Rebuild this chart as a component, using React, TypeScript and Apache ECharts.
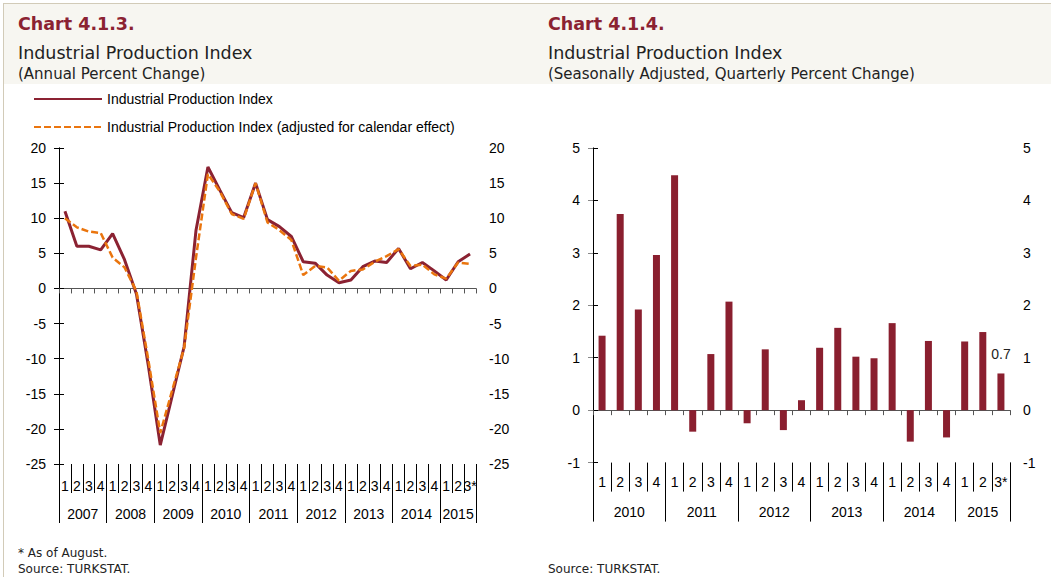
import React, { useEffect, useRef } from "react";
import * as echarts from "echarts";

// ---------- Chart 4.1.3 data ----------
const leftQuarters = [
  "1", "2", "3", "4", "1", "2", "3", "4", "1", "2", "3", "4",
  "1", "2", "3", "4", "1", "2", "3", "4", "1", "2", "3", "4",
  "1", "2", "3", "4", "1", "2", "3", "4", "1", "2", "3*",
];
const leftYears = ["2007", "2008", "2009", "2010", "2011", "2012", "2013", "2014", "2015"];
const leftYearQuarterCounts = [4, 4, 4, 4, 4, 4, 4, 4, 3];
const ipi = [
  11.0, 6.0, 6.0, 5.5, 7.8, 4.1, -0.8, -11.0, -22.3, -15.3, -8.3, 8.3,
  17.3, 14.0, 10.8, 10.1, 15.0, 9.8, 8.8, 7.4, 3.8, 3.6, 1.9, 0.8,
  1.2, 3.1, 3.9, 3.7, 5.7, 2.8, 3.7, 2.5, 1.2, 3.8, 4.9,
];
const ipiCalendar = [
  10.0, 8.7, 8.1, 7.9, 4.4, 3.0, -0.4, -10.2, -20.6, -14.5, -8.5, 4.4,
  16.3, 13.8, 10.6, 9.9, 15.0, 9.4, 8.3, 6.9, 1.9, 3.2, 3.0, 1.1,
  2.5, 2.7, 3.8, 4.6, 5.6, 3.2, 3.4, 2.0, 1.4, 3.7, 3.5,
];
const leftTicks = { min: -25, max: 20, interval: 5 };

// ---------- Chart 4.1.4 data ----------
const rightQuarters = [
  "1", "2", "3", "4", "1", "2", "3", "4", "1", "2", "3", "4",
  "1", "2", "3", "4", "1", "2", "3", "4", "1", "2", "3*",
];
const rightYears = ["2010", "2011", "2012", "2013", "2014", "2015"];
const rightYearQuarterCounts = [4, 4, 4, 4, 4, 3];
const qoq = [
  1.42, 3.74, 1.92, 2.96, 4.48, -0.41, 1.07, 2.07, -0.25, 1.16, -0.38, 0.19,
  1.19, 1.57, 1.02, 0.99, 1.66, -0.6, 1.32, -0.52, 1.31, 1.49, 0.7,
];
const rightTicks = { min: -1, max: 5, interval: 1 };

const FONT = "Liberation Sans, Arial, sans-serif";
const TITLE_FONT = "'DejaVu Sans', sans-serif";
const RED = "#8B2232";
const ORANGE = "#EA750E";
const BAR = "#8A1F2F";

function yearCenters(counts: number[]) {
  const res: number[] = [];
  let acc = 0;
  counts.forEach((c) => {
    res.push(acc + c / 2);
    acc += c;
  });
  return res;
}

function buildXAxes(
  gridIndex: number,
  quarters: string[],
  years: string[],
  counts: number[],
  quarterMargin: number,
  yearMargin: number,
  zeroColor: string
) {
  const total = counts.reduce((a, b) => a + b, 0);
  const centers = yearCenters(counts);
  return [
    {
      type: "category",
      gridIndex,
      data: quarters,
      position: "bottom",
      axisLine: { show: true, onZero: true, lineStyle: { color: zeroColor, width: 1 } },
      axisTick: { show: true, interval: 0, length: 5, lineStyle: { color: zeroColor } },
      axisLabel: { show: false },
      splitLine: { show: false },
    },
    {
      type: "category",
      gridIndex,
      data: quarters,
      position: "bottom",
      axisLine: { show: false, onZero: false },
      axisTick: { show: true, interval: 0, length: 29, lineStyle: { color: "#000" } },
      axisLabel: {
        show: true,
        interval: 0,
        margin: quarterMargin,
        color: "#000",
        fontSize: 14,
        fontFamily: FONT,
      },
      splitLine: { show: false },
    },
    {
      type: "value",
      gridIndex,
      min: 0,
      max: total,
      interval: 4,
      position: "bottom",
      axisLine: { show: false, onZero: false },
      axisTick: { show: true, length: 59, lineStyle: { color: "#000" } },
      axisLabel: { show: false },
      splitLine: { show: false },
    },
    {
      type: "value",
      gridIndex,
      min: 0,
      max: total,
      interval: 0.5,
      position: "bottom",
      axisLine: { show: false, onZero: false },
      axisTick: { show: false },
      axisLabel: {
        show: true,
        margin: yearMargin,
        color: "#000",
        fontSize: 14,
        fontFamily: FONT,
        showMinLabel: false,
        showMaxLabel: false,
        formatter: (v: number) => {
          const idx = centers.findIndex((c) => Math.abs(c - v) < 1e-6);
          return idx >= 0 ? years[idx] : "";
        },
      },
      splitLine: { show: false },
    },
  ];
}

function buildYAxes(gridIndex: number, ticks: { min: number; max: number; interval: number }, leftColor: string) {
  const base = (position: string, color: string) => ({
    type: "value",
    gridIndex,
    position,
    min: ticks.min,
    max: ticks.max,
    interval: ticks.interval,
    axisLine: { show: true, lineStyle: { color, width: 1 } },
    axisTick: { show: true, length: 5, lineStyle: { color } },
    axisLabel: { show: true, margin: 13, color: "#000", fontSize: 14, fontFamily: FONT },
    splitLine: { show: false },
  });
  return [base("left", leftColor), base("right", "#000")];
}

export default function App() {
  const ref = useRef<HTMLDivElement>(null);

  useEffect(() => {
    document.body.style.margin = "0";
    if (!ref.current) return;
    const chart = echarts.init(ref.current, undefined, { renderer: "svg" });

    const xAxes = [
      ...buildXAxes(0, leftQuarters, leftYears, leftYearQuarterCounts, 15, 43, "#555"),
      ...buildXAxes(1, rightQuarters, rightYears, rightYearQuarterCounts, 12, 42, "#555"),
    ];
    const yAxes = [...buildYAxes(0, leftTicks, "#000"), ...buildYAxes(1, rightTicks, "#888")];

    const text = (x: number, y: number, t: string, size: number, color: string, weight = "normal", font = TITLE_FONT) => ({
      type: "text",
      x,
      y,
      style: { text: t, fill: color, fontSize: size, fontWeight: weight, fontFamily: font, textVerticalAlign: "middle" },
    });

    const option: any = {
      animation: false,
      backgroundColor: "#fff",
      grid: [
        { left: 59, right: 575, top: 148, height: 316, containLabel: false },
        { left: 593, right: 41, top: 148, height: 314.6, containLabel: false },
      ],
      legend: {
        left: 28,
        top: 87,
        orient: "vertical",
        itemWidth: 68,
        itemHeight: 14,
        itemGap: 14,
        itemStyle: { opacity: 0 },
        data: ["Industrial Production Index", "Industrial Production Index (adjusted for calendar effect)"],
        textStyle: { color: "#000", fontSize: 14, fontFamily: FONT },
      },
      xAxis: xAxes,
      yAxis: yAxes,
      series: [
        {
          name: "Industrial Production Index",
          type: "line",
          xAxisIndex: 0,
          yAxisIndex: 0,
          data: ipi,
          symbol: "none",
          lineStyle: { color: RED, width: 3 },
          itemStyle: { color: RED },
          z: 3,
        },
        {
          name: "Industrial Production Index (adjusted for calendar effect)",
          type: "line",
          xAxisIndex: 0,
          yAxisIndex: 0,
          data: ipiCalendar,
          symbol: "none",
          lineStyle: { color: ORANGE, width: 2.5, type: [7, 3] },
          itemStyle: { color: ORANGE },
          z: 4,
        },
        {
          name: "Quarterly Percent Change",
          type: "bar",
          xAxisIndex: 4,
          yAxisIndex: 2,
          barWidth: 7,
          data: qoq.map((v, i) =>
            i === qoq.length - 1
              ? {
                  value: v,
                  label: {
                    show: true,
                    position: "top",
                    distance: 12,
                    color: "#222",
                    fontSize: 14,
                    fontFamily: FONT,
                    formatter: (p: any) => String(p.value),
                  },
                }
              : v
          ),
          itemStyle: { color: BAR },
        },
      ],
      graphic: [
        { type: "rect", z: -10, shape: { x: 3, y: 3, width: 1048, height: 81 }, style: { fill: "#F7F6F1" } },
        { type: "line", z: -9, shape: { x1: 3, y1: 3.5, x2: 1051, y2: 3.5 }, style: { stroke: "#D2CBB8", lineWidth: 1 } },
        { type: "line", z: -9, shape: { x1: 3.5, y1: 3, x2: 3.5, y2: 577 }, style: { stroke: "#D2CBB8", lineWidth: 1 } },
        text(18, 24, "Chart 4.1.3.", 17.5, RED, "bold"),
        text(18, 53, "Industrial Production Index", 17.5, "#222"),
        text(18, 74, "(Annual Percent Change)", 15, "#222"),
        text(548, 24, "Chart 4.1.4.", 17.5, RED, "bold"),
        text(548, 53, "Industrial Production Index", 17.5, "#222"),
        text(548, 74, "(Seasonally Adjusted, Quarterly Percent Change)", 15, "#222"),
        text(18, 553, "* As of August.", 12, "#222"),
        text(18, 569, "Source: TURKSTAT.", 12, "#222"),
        text(548, 569, "Source: TURKSTAT.", 12, "#222"),
      ],
    };

    chart.setOption(option);
    return () => chart.dispose();
  }, []);

  return <div ref={ref} style={{ width: 1051, height: 577, overflow: "hidden" }} />;
}
